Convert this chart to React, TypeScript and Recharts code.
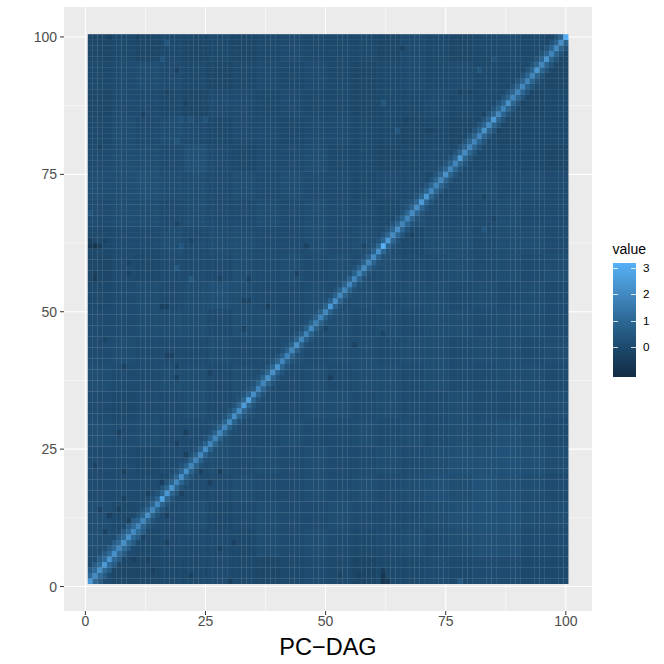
import {
  CartesianGrid, Label, ScatterChart, Scatter, XAxis, YAxis,
} from "recharts";

const WIDTH = 664;
const HEIGHT = 664;
const MARGIN = { top: 7, right: 72, left: 0, bottom: 0 };
const Y_AXIS_W = 64;
const X_AXIS_H = 53;
const DOMAIN: [number, number] = [-4.45, 105.45];

const CELL_W = (WIDTH - MARGIN.right - Y_AXIS_W) / (DOMAIN[1] - DOMAIN[0]);
const CELL_H = (HEIGHT - MARGIN.top - X_AXIS_H) / (DOMAIN[1] - DOMAIN[0]);
// tiles overlap a little so the antialiased seams stay faint
const SEAM_OVERLAP = 0.22;

const majorTicks = [0, 25, 50, 75, 100];
const minorTicks = [12.5, 37.5, 62.5, 87.5];
const legendTicks = [3, 2, 1, 0];
const LEGEND_MIN = -1.13;
const LEGEND_MAX = 3.18;

// main diagonal, x = y = 1..100
const diagonal = [
  2.4, 2.0, 2.2, 2.4, 2.3, 2.2, 1.9, 2.1, 2.2, 2.0,
  1.9, 1.9, 2.1, 1.9, 2.0, 2.7, 2.4, 2.3, 1.9, 2.1,
  2.2, 1.9, 1.8, 1.9, 2.1, 1.8, 1.8, 1.8, 1.8, 2.0,
  2.1, 2.0, 2.5, 2.6, 2.1, 1.8, 1.9, 2.2, 2.2, 2.3,
  1.9, 1.8, 1.9, 2.2, 1.8, 1.8, 2.0, 1.7, 1.8, 1.9,
  2.4, 2.1, 1.9, 1.8, 1.8, 1.9, 1.8, 2.0, 1.9, 2.0,
  2.2, 3.15, 2.5, 2.0, 2.1, 1.8, 1.9, 2.0, 2.1, 2.4,
  2.4, 1.9, 1.8, 1.9, 2.2, 1.8, 1.9, 2.5, 2.0, 1.8,
  1.8, 1.9, 2.2, 2.0, 2.4, 1.9, 1.8, 2.2, 1.9, 1.8,
  1.9, 1.8, 1.9, 2.4, 1.9, 2.3, 1.9, 2.0, 2.1, 3.1,
];

// cells one step off the diagonal, grouped every 10 along it
const nearBand = [1.05, 0.85, 0.8, 0.85, 0.75, 0.8, 0.9, 0.85, 0.85, 0.85];
// two steps off the diagonal
const farBand = [0.6, 0.3, 0.25, 0.35, 0.25, 0.25, 0.35, 0.35, 0.35, 0.3];

// mottling of the background, 5x5 blocks, first line is y = 96..100
const blockValues = [
  [-.1, -.03, -.1, -.03, -.1, -.03, -.1, -.03, .05, -.03, -.03, -.03, -.1, .05, -.03, -.1, -.03, .05, -.03, -.1],
  [-.03, .05, .13, .05, -.03, -.1, -.03, .05, -.03, .05, -.03, -.1, -.03, .05, -.03, .05, -.03, -.03, -.03, -.1],
  [-.1, .05, .05, -.03, -.1, .05, .05, -.03, .05, -.03, -.03, -.1, -.03, -.03, .05, -.03, -.03, -.03, -.1, -.03],
  [-.03, .13, .05, .13, .05, -.03, .05, .05, -.03, .05, .05, -.03, -.03, -.1, -.03, -.1, -.03, -.1, -.03, -.03],
  [.05, .13, .13, .05, .2, .05, -.03, .05, .05, .13, -.03, -.03, -.1, -.03, .05, -.03, -.03, -.03, -.03, -.1],
  [.13, .13, .2, .13, .13, .05, .13, .05, .13, .05, .05, -.03, .05, .05, -.03, .05, .13, .05, .13, .05],
  [.05, .13, .13, .05, .13, .05, .05, .13, .05, .13, .05, .05, -.03, .13, .05, .05, .05, .13, .05, .05],
  [-.03, .05, .05, .13, .05, .13, .13, .05, .05, .13, .05, .13, .05, -.03, .13, .13, .05, .13, .13, .05],
  [-.1, .05, -.03, .05, .05, .05, .13, .05, .13, .05, .13, .05, .13, .05, .05, .13, .05, .13, .05, .13],
  [-.03, .05, .13, .05, .13, .2, .13, .05, .05, .13, .05, .13, .05, .13, .13, .05, .13, .05, .13, .05],
  [.05, .05, .13, .13, .13, .05, .13, .13, .05, .13, .13, .05, .13, .05, .13, .13, .05, .13, .13, .05],
  [.05, .13, .05, .05, .05, .13, .05, .05, .13, .05, .13, .13, .05, .13, .13, .05, .13, .13, .05, .13],
  [.13, .05, .05, .13, .13, .05, .13, .05, .05, .13, .05, .13, .13, .05, .13, .05, .05, .13, .13, .05],
  [.05, -.03, .05, .05, .13, .05, .13, .05, .05, .13, .13, .05, .13, .05, .05, .13, .05, .05, .13, .13],
  [.13, .05, .13, .05, .05, .13, .05, .05, .13, .05, .05, .13, .05, .13, .05, .13, .13, .2, .13, .05],
  [.05, .05, -.03, .05, .05, .13, .05, .13, .05, .13, .05, .05, .13, .05, .13, .2, .2, .28, .2, .13],
  [.05, .05, .05, -.03, .05, .05, .13, .05, .05, .13, .05, .13, .05, .13, .2, .13, .28, .2, .13, .05],
  [.13, -.03, .05, .05, .13, -.03, .05, .13, .05, .05, .13, .05, .05, .05, .13, .2, .28, .28, .13, .13],
  [.13, .05, -.03, .05, .05, .05, -.03, .13, .05, .13, .05, -.03, .05, .13, .05, .13, .2, .2, .05, .05],
  [.05, -.1, -.1, -.03, -.03, .05, -.03, -.1, -.03, .05, -.03, -.18, -.03, -.03, .05, -.03, .05, .05, -.03, -.03],
];

// single cells that stand out from the blocks: x, y, value
const spots: [number, number, number][] = [
  [62, 1, -.75], [62, 2, -.75], [63, 1, -.55], [62, 3, -.45], [57, 2, -.4], [53, 2, -.25], [78, 1, .55],
  [2, 62, -.75], [1, 62, -.6], [3, 62, -.45], [1, 63, -.35], [4, 63, -.25], [2, 57, -.35], [2, 56, -.5],
  [9, 59, -.25], [9, 57, -.25], [16, 51, -.4], [17, 51, -.3], [19, 66, -.25], [22, 63, -.25], [4, 45, -.25],
  [17, 42, -.3], [18, 42, -.3], [8, 40, -.3], [19, 40, -.25], [19, 38, -.3], [26, 39, -.25], [34, 52, -.25],
  [33, 47, -.25], [34, 56, -.25], [28, 56, -.25], [19, 58, .5], [22, 56, .5], [20, 62, .45], [1, 68, .4], [35, 36, .55],
  [7, 28, -.35], [21, 28, -.35], [19, 26, -.3], [21, 24, -.35], [2, 22, -.3], [8, 21, -.35], [24, 21, -.3],
  [28, 21, -.4], [16, 19, -.4], [26, 19, -.3], [20, 17, -.35], [13, 17, -.35], [8, 16, -.3], [3, 14, -.3],
  [7, 14, -.35], [5, 13, -.3], [17, 13, -.4], [9, 12, -.35], [4, 10, -.3], [12, 9, -.3], [17, 8, -.35],
  [28, 7, -.3], [31, 8, -.3], [10, 5, -.3], [13, 5, -.3], [14, 3, -.35], [22, 2, -.35], [30, 1, -.35],
  [66, 98, -.3], [78, 90, -.3], [80, 90, -.25], [67, 85, -.25], [71, 83, -.25], [72, 83, -.25], [83, 86, -.25],
  [86, 83, -.25], [91, 88, -.25], [68, 64, -.3], [83, 71, -.25], [85, 67, -.25], [82, 94, .4], [62, 88, .4],
  [65, 83, .4], [85, 96, .35], [83, 65, .45], [5, 100, -.3], [11, 100, -.25], [19, 94, -.3], [17, 90, -.25],
  [12, 86, -.3], [21, 88, -.3], [3, 80, -.25], [17, 99, .45], [16, 96, .4], [20, 85, .35], [22, 85, .35],
  [25, 85, .35], [19, 81, .4], [46, 62, -.3], [34, 56, -.3], [44, 57, -.3], [33, 52, -.25], [38, 51, -.35],
  [51, 38, -.35], [62, 46, -.25], [56, 44, -.3], [58, 62, -.25], [50, 47, -.25],
];

type CellPoint = { x: number; y: number; value: number };

const cellValue = (x: number, y: number) => {
  const off = Math.abs(x - y);
  if (off === 0) return diagonal[x - 1];
  const segment = Math.min(Math.floor((Math.min(x, y) - 1) / 10), 9);
  if (off === 1) return nearBand[segment];
  if (off === 2) return farBand[segment];
  return blockValues[Math.floor((100 - y) / 5)][Math.floor((x - 1) / 5)];
};

const cells: CellPoint[] = [];
for (let y = 1; y <= 100; y++) {
  for (let x = 1; x <= 100; x++) {
    cells.push({ x, y, value: cellValue(x, y) });
  }
}
for (const [x, y, value] of spots) {
  cells[(y - 1) * 100 + (x - 1)].value = value;
}

// low to high of the fill scale, in even steps
const colorStops = [
  [0x13, 0x2b, 0x43], [0x1c, 0x48, 0x6b], [0x2d, 0x69, 0x96], [0x44, 0x8d, 0xc6], [0x56, 0xb1, 0xf7],
];
const colorFor = (value: number) => {
  const t = Math.max(0, Math.min(1, (value - LEGEND_MIN) / (LEGEND_MAX - LEGEND_MIN))) * (colorStops.length - 1);
  const i = Math.min(Math.floor(t), colorStops.length - 2);
  const c = colorStops[i].map((low, k) => Math.round(low + (colorStops[i + 1][k] - low) * (t - i)));
  return `rgb(${c[0]},${c[1]},${c[2]})`;
};
const legendGradient = colorStops.map((c) => `rgb(${c[0]},${c[1]},${c[2]})`).reverse().join(", ");

const Cell = (props: any) => (
  <rect
    x={props.cx - CELL_W / 2}
    y={props.cy - CELL_H / 2}
    width={CELL_W + SEAM_OVERLAP}
    height={CELL_H + SEAM_OVERLAP}
    fill={colorFor(props.payload.value)}
  />
);

const FONT = '"Liberation Sans", Arial, sans-serif';
const BAR_TOP = 263;
const BAR_H = 114;
const legendY = (v: number) => BAR_TOP + ((LEGEND_MAX - v) / (LEGEND_MAX - LEGEND_MIN)) * BAR_H;

export default function App() {
  return (
    <div style={{ position: "absolute", left: 0, top: 0, width: WIDTH, height: HEIGHT, background: "#fff", fontFamily: FONT }}>
      <ScatterChart width={WIDTH} height={HEIGHT} margin={MARGIN}>
        <CartesianGrid fill="#EBEBEB" stroke="#fff" strokeWidth={0.53} horizontalValues={minorTicks} verticalValues={minorTicks} />
        <CartesianGrid stroke="#fff" strokeWidth={1.07} horizontalValues={majorTicks} verticalValues={majorTicks} />
        <XAxis
          type="number"
          dataKey="x"
          domain={DOMAIN}
          ticks={majorTicks}
          height={X_AXIS_H}
          axisLine={false}
          tickLine={{ stroke: "#333333" }}
          tickSize={4}
          tickMargin={1}
          tick={{ fontSize: 14, fill: "#4D4D4D", fontFamily: FONT }}
          interval={0}
        >
          <Label value="PC−DAG" position="insideBottom" offset={9} fontSize={23.5} fill="#000" fontFamily={FONT} />
        </XAxis>
        <YAxis
          type="number"
          dataKey="y"
          domain={DOMAIN}
          ticks={majorTicks}
          width={Y_AXIS_W}
          axisLine={false}
          tickLine={{ stroke: "#333333" }}
          tickSize={4}
          tickMargin={3}
          tick={{ fontSize: 14, fill: "#4D4D4D", fontFamily: FONT }}
          interval={0}
        />
        <Scatter data={cells} shape={Cell} isAnimationActive={false} />
      </ScatterChart>

      <div style={{ position: "absolute", left: 612.5, top: 241, fontSize: 14, lineHeight: "16px", color: "#000" }}>value</div>
      <div
        style={{
          position: "absolute", left: 613, top: BAR_TOP, width: 23, height: BAR_H,
          background: `linear-gradient(to bottom, ${legendGradient})`,
        }}
      />
      {legendTicks.map((v) => (
        <div key={v}>
          <div style={{ position: "absolute", left: 613, top: legendY(v), width: 4.6, height: 0.6, background: "rgba(255,255,255,0.8)" }} />
          <div style={{ position: "absolute", left: 631.4, top: legendY(v), width: 4.6, height: 0.6, background: "rgba(255,255,255,0.8)" }} />
          <div style={{ position: "absolute", left: 643, top: legendY(v) - 7, fontSize: 11.7, lineHeight: "14px", color: "#000" }}>{v}</div>
        </div>
      ))}
    </div>
  );
}
